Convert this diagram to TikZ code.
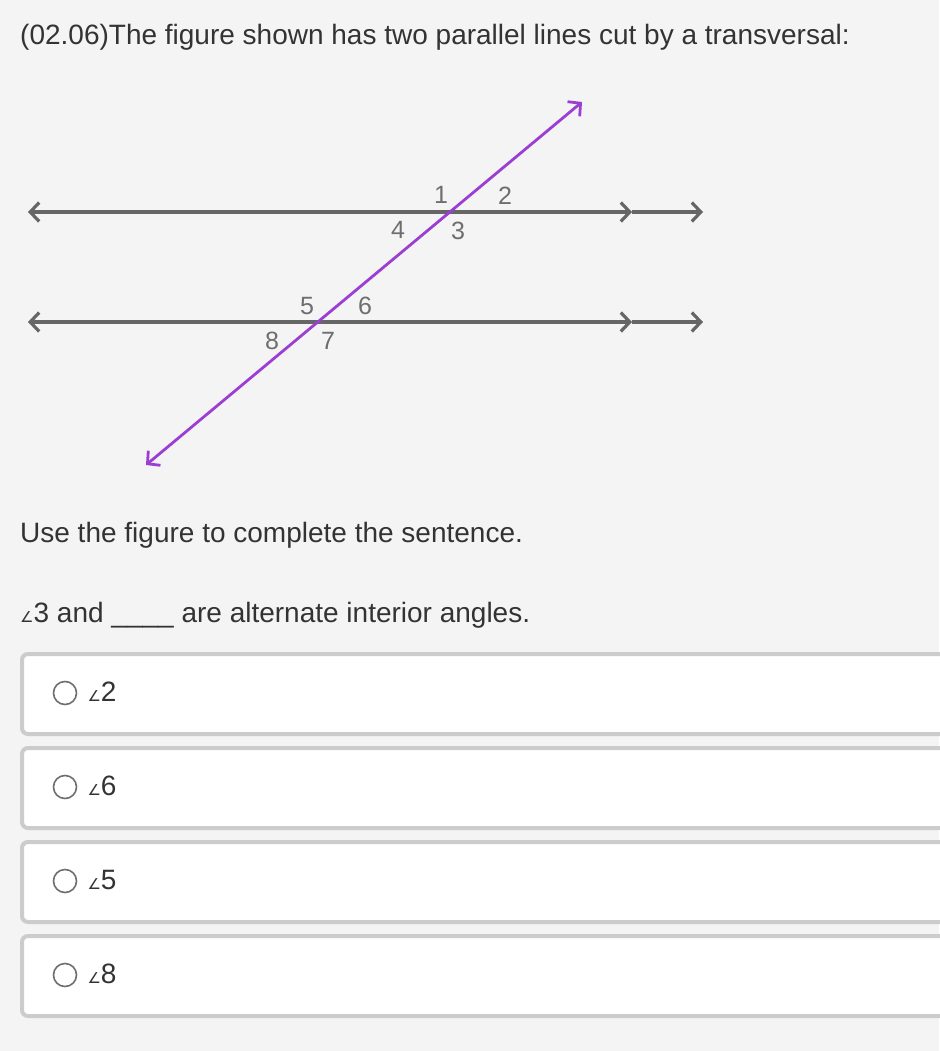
\documentclass[tikz,border=0pt]{standalone}
\usepackage{fontspec}
\setmainfont{Liberation Sans}
\newfontfamily\symfont{DejaVu Sans}
\usetikzlibrary{arrows.meta,positioning}

\definecolor{pagebg}{HTML}{F4F4F4}
\definecolor{ink}{HTML}{333333}
\definecolor{linegray}{HTML}{666666}
\definecolor{lblgray}{HTML}{6E6E6E}
\definecolor{transv}{HTML}{9B3FD2}
\definecolor{boxgray}{HTML}{CCCCCC}

\newcommand{\ang}[1]{{\symfont\fontsize{15}{15}\selectfont ∠}#1}

\begin{document}
\begin{tikzpicture}[x=1pt,y=-1pt,
    every node/.style={inner sep=0pt},
    txt/.style={anchor=base west,text=ink,font=\fontsize{28}{32}\selectfont},
    lbl/.style={text=lblgray,font=\fontsize{25}{26}\selectfont},
    tip/.style={arrows={-Straight Barb[length=9pt,width=19pt]}},
    parline/.style={draw=linegray,line width=3.2pt,
      arrows={Straight Barb[length=9pt,width=19pt]-Straight Barb[length=9pt,width=19pt]}},
    cutline/.style={draw=transv,line width=2.8pt,
      arrows={Straight Barb[length=9pt,width=19pt]-Straight Barb[length=9pt,width=19pt]}},
    choice/.style={draw=boxgray,line width=4pt,fill=white,rounded corners=6pt},
    radio/.style={circle,draw=lblgray,line width=1.6pt,minimum size=23pt}]
\fill[pagebg] (0,0) rectangle (939,1051);
\useasboundingbox (0,0) rectangle (939,1051);

\node[txt] (title) at (20,45) {(02.06)The figure shown has two parallel lines cut by a transversal:};

% the two parallel lines
\coordinate (tl) at (28,212);  \coordinate (tm) at (632,212); \coordinate (tr) at (703,212);
\coordinate (bl) at (28,322);  \coordinate (bm) at (632,322); \coordinate (br) at (703,322);
\draw[parline] (tl) -- (tm);
\draw[parline,tip] (tm) -- (tr);
\draw[parline] (bl) -- (bm);
\draw[parline,tip] (bm) -- (br);

% transversal
\coordinate (ts) at (146,465);
\coordinate (te) at (582,102);
\draw[cutline] (ts) -- (te);

\coordinate (p) at (450,212);
\coordinate (q) at (318,322);
\node[lbl] (a1) at ([shift={(-9,-17)}]p) {1};
\node[lbl] (a2) at ([shift={(55,-16)}]p) {2};
\node[lbl] (a4) at ([shift={(-52,18)}]p) {4};
\node[lbl] (a3) at ([shift={(8,19)}]p) {3};
\node[lbl] (a5) at ([shift={(-11,-16)}]q) {5};
\node[lbl] (a6) at ([shift={(47,-16)}]q) {6};
\node[lbl] (a8) at ([shift={(-46,19)}]q) {8};
\node[lbl] (a7) at ([shift={(10,19)}]q) {7};

\node[txt] (use) at (20,542) {Use the figure to complete the sentence.};
\node[txt] (ask) at (20,622) {\ang{3} and \_\_\_\_ are alternate interior angles.};

% answer choices
\foreach \i/\n in {0/2,1/6,2/5,3/8}{
  \draw[choice] (22,654+94*\i) rectangle (975,734+94*\i);
  \node[radio] (r\i) at (65,693+94*\i) {};
  \node[txt,right=10pt of r\i.east,anchor=west,yshift=1pt] (opt\i) {\ang{\n}};
}
\end{tikzpicture}
\end{document}
